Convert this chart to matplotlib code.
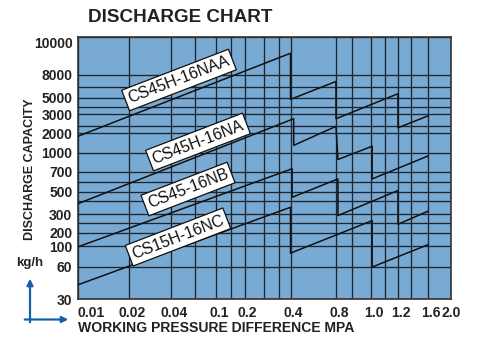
import numpy as np
import matplotlib.pyplot as plt
from matplotlib.ticker import FixedLocator
import matplotlib.transforms as mtransforms

plt.rcParams['font.family'] = ['Liberation Sans', 'DejaVu Sans']

# axis tick labels
p_ticks = [0.01, 0.02, 0.04, 0.1, 0.2, 0.4, 0.8, 1.0, 1.2, 1.6, 2.0]
q_ticks = [30, 60, 100, 200, 300, 500, 700, 1000, 2000, 3000, 5000, 8000, 10000]

# discharge curves (pressure MPa, capacity kg/h)
naa_p = [0.01, 0.4, 0.4, 0.8, 0.8, 1.2, 1.2, 1.6]
naa_q = [1800, 9100, 4750, 7000, 2730, 5430, 2250, 2900]
na_p = [0.01, 0.42, 0.42, 0.8, 0.81, 1.01, 1.01, 1.6]
na_q = [380, 2730, 1300, 2320, 880, 1260, 620, 940]
nb_p = [0.01, 0.41, 0.41, 0.81, 0.81, 1.2, 1.2, 1.6]
nb_q = [98, 740, 440, 620, 290, 510, 240, 320]
nc_p = [0.01, 0.4, 0.4, 1.01, 1.01, 1.6]
nc_q = [41, 350, 84, 260, 60, 107]
names = ['CS45H-16NAA', 'CS45H-16NA', 'CS45-16NB', 'CS15H-16NC']

# layout (pixels of a 478x339 image)
W, H = 478, 339
x_pix = [78, 129.3, 171, 216, 244.5, 290.5, 336, 370.7, 398, 428, 450.7]
y_pix = [299.3, 267, 246, 232.7, 214, 191.7, 171.7, 152.7, 133.3, 114.3, 97.7, 75, 37.3]
grid_x_pix = [194.5, 230.5, 264, 278.7, 351.7, 384.5, 411.3]
grid_y_pix = [87.3, 107, 126.3, 181.7, 201, 223.3]
tag_pos = [(179, 80), (198, 142), (188, 189), (178, 237)]

lp = np.log(p_ticks)
lq = np.log(q_ticks)
yy = H - np.array(y_pix)


def fx(v):
    return np.interp(np.log(np.clip(v, 1e-9, None)), lp, x_pix)


def ix(s):
    return np.exp(np.interp(s, x_pix, lp))


def fy(v):
    return np.interp(np.log(np.clip(v, 1e-9, None)), lq, yy)


def iy(s):
    return np.exp(np.interp(s, yy, lq))


fig = plt.figure(figsize=(W / 100, H / 100), dpi=100)
ax = fig.add_axes([78 / W, (H - 299.3) / H, (450.7 - 78) / W, (299.3 - 37.3) / H])
ax.set_facecolor('#79aad3')
ax.set_xscale('function', functions=(fx, ix))
ax.set_yscale('function', functions=(fy, iy))
ax.set_xlim(0.01, 2.0)
ax.set_ylim(30, 10000)

ax.set_xticks(p_ticks)
ax.set_xticklabels(['0.01', '0.02', '0.04', '0.1', '0.2', '0.4', '0.8', '1.0', '1.2', '1.6', '2.0'])
ax.set_yticks(q_ticks)
ax.set_yticklabels([str(q) for q in q_ticks])
ax.xaxis.set_minor_locator(FixedLocator(ix(np.array(grid_x_pix))))
ax.yaxis.set_minor_locator(FixedLocator(iy(H - np.array(grid_y_pix))))
ax.tick_params(which='both', length=0)
ax.tick_params(axis='x', pad=5)
ax.tick_params(axis='y', pad=4)
for lbl in ax.get_xticklabels() + ax.get_yticklabels():
    lbl.set_fontsize(10)
    lbl.set_fontweight('bold')
    lbl.set_color('#222222')
shift = mtransforms.ScaledTranslation(3 / 100, 0, fig.dpi_scale_trans)
for lbl in ax.get_xticklabels()[1:-1]:
    lbl.set_transform(lbl.get_transform() + shift)
ax.get_xticklabels()[0].set_horizontalalignment('left')
ax.get_yticklabels()[-1].set_verticalalignment('top')

ax.grid(True, which='both', color='#1c2630', lw=0.95)
ax.set_axisbelow(True)
for sp in ax.spines.values():
    sp.set_color('#333333')
    sp.set_linewidth(1.2)

for p, q in [(naa_p, naa_q), (na_p, na_q), (nb_p, nb_q), (nc_p, nc_q)]:
    ax.plot(p, q, color='#111111', lw=1.1, zorder=3)

for name, (tx, ty) in zip(names, tag_pos):
    fig.text(tx / W, 1 - ty / H, name, rotation=21, ha='center', va='center',
             fontsize=11.5, color='#111111', zorder=5,
             bbox=dict(boxstyle='square,pad=0.22', fc='white', ec='#111111', lw=0.9))

fig.text(88 / W, 1 - 17 / H, 'DISCHARGE CHART', fontsize=13.6, fontweight='bold',
         color='#222222', ha='left', va='center')
fig.text(30 / W, 1 - 169 / H, 'DISCHARGE CAPACITY', rotation=90, fontsize=9,
         fontweight='bold', color='#222222', ha='center', va='center')
fig.text(30 / W, 1 - 263 / H, 'kg/h', fontsize=9.5, fontweight='bold',
         color='#222222', ha='center', va='center')
fig.text(78 / W, 1 - 328 / H, 'WORKING PRESSURE DIFFERENCE MPA', fontsize=10.1,
         fontweight='bold', color='#222222', ha='left', va='center')

blue = '#1560a8'
ax.annotate('', xy=(30, H - 276), xytext=(30, H - 325), xycoords='figure pixels',
            textcoords='figure pixels',
            arrowprops=dict(arrowstyle='-|>', color=blue, lw=1.6, mutation_scale=9))
ax.annotate('', xy=(71, H - 319.5), xytext=(22, H - 319.5), xycoords='figure pixels',
            textcoords='figure pixels',
            arrowprops=dict(arrowstyle='-|>', color=blue, lw=1.6, mutation_scale=9))

plt.savefig('out.png', dpi=100)
